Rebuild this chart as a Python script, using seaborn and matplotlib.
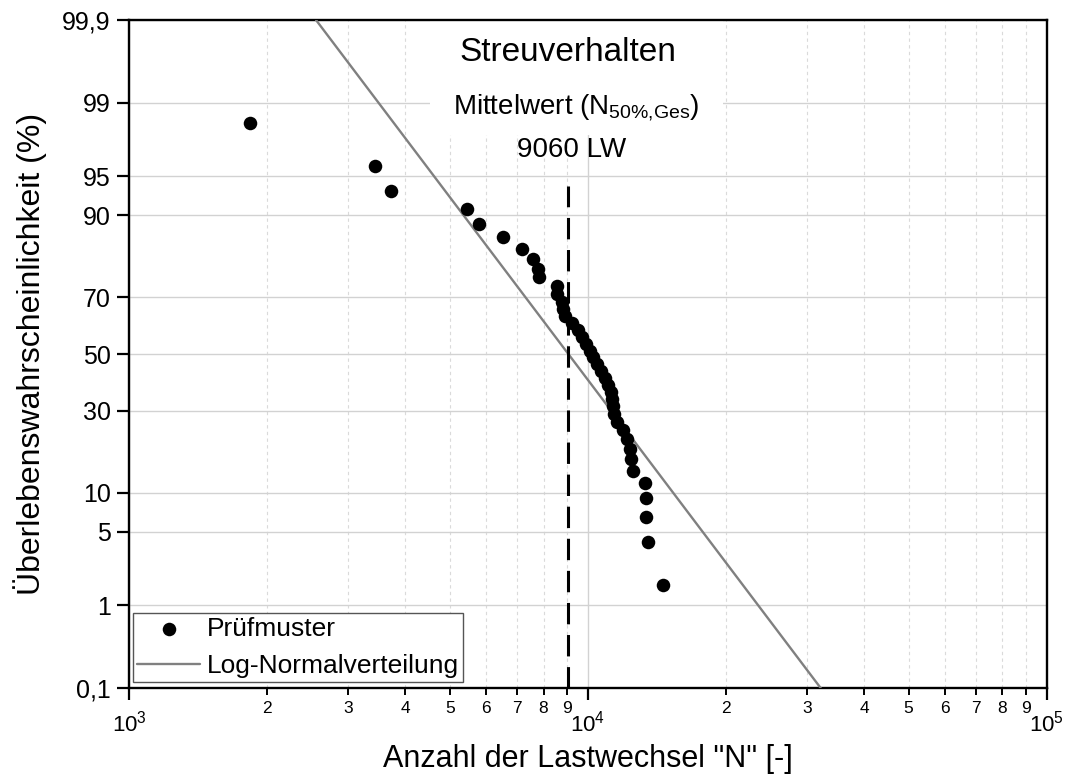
import numpy as np
import seaborn as sns
import matplotlib
matplotlib.use("Agg")
import matplotlib.pyplot as plt
from matplotlib import ticker
from matplotlib.patches import Rectangle
from statistics import NormalDist

# Lastwechsel bis zum Ausfall je Prüfmuster (aufsteigend sortiert)
cycles = [1830, 3439, 3720, 5457, 5795, 6537, 7191, 7600, 7768, 7831,
          8545, 8579, 8762, 8833, 8910, 9229, 9510, 9703, 9900, 10101,
          10254, 10462, 10674, 10891, 11055, 11196, 11280, 11337, 11394, 11567,
          11920, 12162, 12347, 12379, 12534, 13280, 13348, 13413, 13482, 14550]

# Überlebenswahrscheinlichkeit je Prüfmuster in %
survival = [98.38, 95.90, 93.42, 90.94, 88.46, 85.97, 83.49, 81.01, 78.53, 76.05,
            73.57, 71.09, 68.61, 66.13, 63.65, 61.17, 58.69, 56.21, 53.73, 51.24,
            48.76, 46.28, 43.80, 41.32, 38.84, 36.36, 33.88, 31.40, 28.92, 26.44,
            23.96, 21.48, 19.00, 16.52, 14.04, 11.56, 9.08, 6.60, 4.12, 1.64]

# Log-Normalverteilung: Median (N50%) und Streuung im log10-Raum
median_cycles = 9060
log_sigma = 0.178
fit_survival = [99.9, 0.1]
median_marker_top = 94.0

y_ticks = [0.1, 1, 5, 10, 30, 50, 70, 90, 95, 99, 99.9]
y_tick_labels = ["0,1", "1", "5", "10", "30", "50", "70", "90", "95", "99", "99,9"]
x_limits = [1e3, 1e5]
x_major = [1e3, 1e4, 1e5]

sns.set_theme(style="ticks")
plt.rcParams["font.family"] = ["Liberation Sans", "DejaVu Sans"]
plt.rcParams["mathtext.fontset"] = "custom"
plt.rcParams["mathtext.rm"] = "Liberation Sans"
plt.rcParams["mathtext.it"] = "Liberation Sans:italic"
plt.rcParams["mathtext.bf"] = "Liberation Sans:bold"
for key in ["text.color", "axes.labelcolor", "xtick.color", "ytick.color",
            "axes.edgecolor"]:
    plt.rcParams[key] = "black"

_nd = NormalDist()
_inv = np.vectorize(lambda v: _nd.inv_cdf(v / 100.0), otypes=[float])
_cdf = np.vectorize(lambda v: 100.0 * _nd.cdf(v), otypes=[float])


def prob_forward(p):
    p = np.clip(np.asarray(p, dtype=float), 1e-9, 100 - 1e-9)
    return _inv(p)


def prob_inverse(z):
    return _cdf(np.asarray(z, dtype=float))


fig = plt.figure(figsize=(10.72, 7.76), dpi=100)
ax = fig.add_axes([0.12062, 0.11340, 0.85578, 0.86082])
ax.set_xscale("log")
ax.set_yscale("function", functions=(prob_forward, prob_inverse))
ax.set_xlim(*x_limits)
ax.set_ylim(fit_survival[1], fit_survival[0])
ax.set_axisbelow(True)

# Gitter
ax.yaxis.grid(True, which="major", color="#d2d2d2", lw=1.0, ls="-")
ax.xaxis.grid(True, which="major", color="#d2d2d2", lw=1.0, ls="-")
ax.xaxis.grid(True, which="minor", color="#dadada", lw=0.8, ls=(0, (3, 3)))

# Hintergrund hinter der Beschriftung oben
ax.add_patch(Rectangle((0.328, 0.828), 0.319, 0.172, transform=ax.transAxes,
                       facecolor="white", edgecolor="none", zorder=1))

# Messpunkte
sns.scatterplot(x=cycles, y=survival, ax=ax, color="black", s=95,
                linewidth=0, label="Prüfmuster", zorder=4)

# Ausgleichsgerade der Log-Normalverteilung
fit_cycles = [median_cycles * 10 ** (-log_sigma * _nd.inv_cdf(s / 100.0))
              for s in fit_survival]
sns.lineplot(x=fit_cycles, y=fit_survival, ax=ax, color="#808080", lw=1.7,
             label="Log-Normalverteilung", estimator=None, sort=False, zorder=3)

# Mittelwert als gestrichelte Senkrechte
ax.plot([median_cycles, median_cycles], [fit_survival[1], median_marker_top],
        color="black", lw=2.2, ls=(0, (7, 3.5)), zorder=3)

# Achsen
ax.yaxis.set_major_locator(ticker.FixedLocator(y_ticks))
ax.yaxis.set_major_formatter(ticker.FixedFormatter(y_tick_labels))
ax.yaxis.set_minor_locator(ticker.NullLocator())

ax.xaxis.set_major_locator(ticker.FixedLocator(x_major))
ax.xaxis.set_major_formatter(ticker.FuncFormatter(
    lambda v, pos: rf"$10^{{{int(round(np.log10(v)))}}}$"))
ax.xaxis.set_minor_locator(ticker.LogLocator(base=10, subs=range(2, 10)))
ax.xaxis.set_minor_formatter(ticker.FuncFormatter(
    lambda v, pos: f"{int(round(v / 10 ** np.floor(np.log10(v) + 1e-9)))}"))

for side in ["left", "right", "top", "bottom"]:
    ax.spines[side].set_visible(True)
    ax.spines[side].set_linewidth(1.7)
    ax.spines[side].set_color("black")

ax.tick_params(axis="y", which="major", direction="out", length=8.5, width=1.6,
               labelsize=18, pad=5, colors="black")
ax.tick_params(axis="x", which="major", direction="out", length=8.5, width=1.6,
               labelsize=16, pad=8, colors="black")
ax.tick_params(axis="x", which="minor", direction="out", length=5, width=1.4,
               labelsize=12.5, pad=4, colors="black")

ax.set_xlabel('Anzahl der Lastwechsel "N" [-]', fontsize=22, labelpad=5)
ax.set_ylabel("Überlebenswahrscheinlichkeit (%)", fontsize=23, labelpad=11)

# Beschriftung oben
ax.text(0.4777, 0.952, "Streuverhalten", transform=ax.transAxes,
        fontsize=24, ha="center", va="center", zorder=5)
ax.text(0.487, 0.869, r"Mittelwert (N$_{\mathrm{50\%{,}Ges}}$)", transform=ax.transAxes,
        fontsize=20, ha="center", va="center", zorder=5)
ax.text(0.4826, 0.805, f"{median_cycles} LW", transform=ax.transAxes,
        fontsize=20, ha="center", va="center", zorder=5)

# Legende
handles, labels = ax.get_legend_handles_labels()
leg = ax.legend(handles, labels, loc="lower left", bbox_to_anchor=(0.004, 0.009),
                fontsize=19, frameon=True, fancybox=False, framealpha=1,
                edgecolor="#555555", borderpad=0.15, handlelength=2.4,
                handletextpad=0.25, labelspacing=0.5, borderaxespad=0)
leg.get_frame().set_linewidth(1.0)

fig.savefig("out.png", dpi=100)
